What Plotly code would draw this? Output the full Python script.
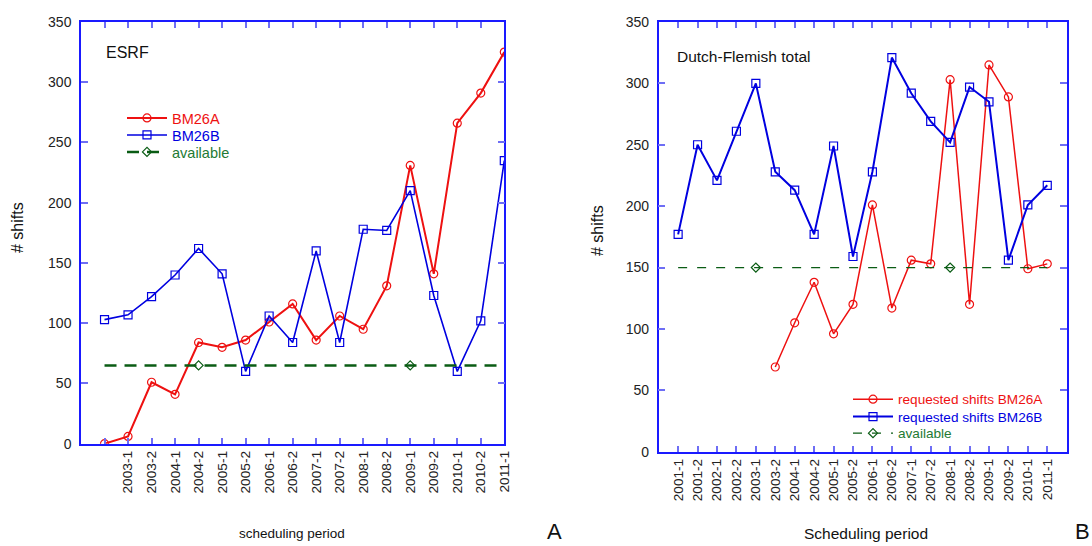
import plotly.graph_objects as go

# ---------------- data: panel A (ESRF) ----------------
esrf_periods = ["", "2003-1", "2003-2", "2004-1", "2004-2", "2005-1", "2005-2",
                "2006-1", "2006-2", "2007-1", "2007-2", "2008-1", "2008-2",
                "2009-1", "2009-2", "2010-1", "2010-2", "2011-1"]
esrf_bm26a = [0, 6, 51, 41, 84, 80, 86, 101, 116, 86, 106, 95, 131, 231, 141, 266, 291, 325]
esrf_bm26b = [103, 107, 122, 140, 162, 141, 60, 106, 84, 160, 84, 178, 177, 210, 123, 60, 102, 235]
esrf_available = [65] * 18
esrf_avail_marker_periods = ["2004-2", "2009-1"]

# ---------------- data: panel B (Dutch-Flemish total) ----------------
df_periods = ["2001-1", "2001-2", "2002-1", "2002-2", "2003-1", "2003-2", "2004-1",
              "2004-2", "2005-1", "2005-2", "2006-1", "2006-2", "2007-1", "2007-2",
              "2008-1", "2008-2", "2009-1", "2009-2", "2010-1", "2011-1"]
df_bm26a = [None, None, None, None, None, 69, 105, 138, 96, 120, 201, 117, 156, 153,
            303, 120, 315, 289, 149, 153]
df_bm26b = [177, 250, 221, 261, 300, 228, 213, 177, 249, 159, 228, 321, 292, 269,
            252, 297, 285, 156, 201, 217]
df_available = [150] * 20
df_avail_marker_periods = ["2003-1", "2008-1"]

yticks = [0, 50, 100, 150, 200, 250, 300, 350]

W, H = 1092, 546
RED = "#ee1111"
BLUE = "#0000e0"
GREEN = "#0a5c14"
GREEN_TXT = "#237a33"
FONT = "Liberation Sans, Arial, sans-serif"
MS = 8


def px(x):
    return x / W


def py(y):
    return 1 - y / H


def span(txt, col):
    return f"<span style='color:{col}'>{txt}</span>"


fig = go.Figure()

xa = list(range(len(esrf_periods)))
xb = list(range(len(df_periods)))

# ---- panel A traces ----
fig.add_trace(go.Scatter(
    x=xa, y=esrf_bm26a, mode="lines+markers", name=span("BM26A", RED),
    line=dict(color=RED, width=2),
    marker=dict(symbol="circle-open", size=MS, color=RED, line=dict(width=1.2)),
    xaxis="x", yaxis="y", legend="legend"))
fig.add_trace(go.Scatter(
    x=xa, y=esrf_bm26b, mode="lines+markers", name=span("BM26B", BLUE),
    line=dict(color=BLUE, width=1.6),
    marker=dict(symbol="square-open", size=MS, color=BLUE, line=dict(width=1.2)),
    xaxis="x", yaxis="y", legend="legend2"))
fig.add_trace(go.Scatter(
    x=xa, y=esrf_available, mode="lines+markers", name=span("available", GREEN_TXT),
    line=dict(color=GREEN, width=2.5, dash="12px,8px"),
    marker=dict(symbol="diamond-open", color=GREEN, size=7, line=dict(width=1.2)),
    selectedpoints=[i for i, p in enumerate(esrf_periods) if p in esrf_avail_marker_periods],
    unselected=dict(marker=dict(opacity=0)),
    xaxis="x", yaxis="y", legend="legend3"))

# ---- panel B traces ----
fig.add_trace(go.Scatter(
    x=xb, y=df_bm26a, mode="lines+markers", name=span("requested shifts BM26A", RED),
    line=dict(color=RED, width=1.5),
    marker=dict(symbol="circle-open", size=MS, color=RED, line=dict(width=1.2)),
    xaxis="x2", yaxis="y2", legend="legend4"))
fig.add_trace(go.Scatter(
    x=xb, y=df_bm26b, mode="lines+markers", name=span("requested shifts BM26B", BLUE),
    line=dict(color=BLUE, width=2),
    marker=dict(symbol="square-open", size=MS, color=BLUE, line=dict(width=1.2)),
    xaxis="x2", yaxis="y2", legend="legend5"))
fig.add_trace(go.Scatter(
    x=xb, y=df_available, mode="lines+markers", name=span("available", GREEN_TXT),
    line=dict(color=GREEN, width=1.2, dash="9px,10px"),
    marker=dict(symbol="diamond-open", color=GREEN, size=7, line=dict(width=1.2)),
    selectedpoints=[i for i, p in enumerate(df_periods) if p in df_avail_marker_periods],
    unselected=dict(marker=dict(opacity=0)),
    xaxis="x2", yaxis="y2", legend="legend6"))

axis_common = dict(showline=True, linecolor="#1a1aff", linewidth=1.5, mirror="ticks",
                   ticks="inside", tickcolor="#6e6ef5", tickwidth=2,
                   showgrid=False, zeroline=False)
ytickfont = dict(family=FONT, size=14, color="#222222")


def leg(xs, ys, size):
    return dict(x=px(xs), y=py(ys), xanchor="left", yanchor="middle",
                bgcolor="rgba(0,0,0,0)", itemwidth=40, tracegroupgap=0,
                font=dict(family=FONT, size=size))


fig.update_layout(
    width=W, height=H, margin=dict(l=0, r=0, t=0, b=0, autoexpand=False),
    paper_bgcolor="white", plot_bgcolor="white", showlegend=True,
    font=dict(family=FONT, color="#222222"),
    xaxis=dict(domain=[px(81), px(504.3)], range=[-1, 17], tickvals=xa,
               ticktext=esrf_periods, tickangle=-90, ticklen=6, anchor="y",
               tickfont=dict(family=FONT, size=13.7, color="#222222"), **axis_common),
    yaxis=dict(domain=[py(443.7), py(22)], range=[0, 350], tickvals=yticks,
               ticklen=7, anchor="x", tickfont=ytickfont, ticklabelstandoff=5,
               **axis_common),
    xaxis2=dict(domain=[px(658.7), px(1066.7)], range=[-1, 20], tickvals=xb,
                ticktext=df_periods, tickangle=-90, ticklen=6, anchor="y2",
                tickfont=dict(family=FONT, size=13.6, color="#222222"), **axis_common),
    yaxis2=dict(domain=[py(451.7), py(22)], range=[0, 350], tickvals=yticks,
                ticklen=7, anchor="x2", tickfont=ytickfont, ticklabelstandoff=5,
                **axis_common),
    legend=leg(122, 118, 14.5),
    legend2=leg(122, 135, 14.5),
    legend3=leg(122, 152, 14.5),
    legend4=leg(848, 399.3, 13.6),
    legend5=leg(848, 416.7, 13.6),
    legend6=leg(848, 433.3, 13.6),
    annotations=[
        dict(text="ESRF", x=px(104), y=py(52), xref="paper", yref="paper",
             xanchor="left", yanchor="middle", showarrow=False,
             font=dict(family=FONT, size=16, color="#111111")),
        dict(text="Dutch-Flemish total", x=px(674.7), y=py(57), xref="paper", yref="paper",
             xanchor="left", yanchor="middle", showarrow=False,
             font=dict(family=FONT, size=15.5, color="#111111")),
        dict(text="# shifts", x=px(17), y=py(228), xref="paper", yref="paper",
             xanchor="center", yanchor="middle", showarrow=False, textangle=-90,
             font=dict(family=FONT, size=16, color="#111111")),
        dict(text="# shifts", x=px(597), y=py(230), xref="paper", yref="paper",
             xanchor="center", yanchor="middle", showarrow=False, textangle=-90,
             font=dict(family=FONT, size=16, color="#111111")),
        dict(text="scheduling period", x=px(292), y=py(533), xref="paper", yref="paper",
             xanchor="center", yanchor="middle", showarrow=False,
             font=dict(family=FONT, size=13.5, color="#111111")),
        dict(text="Scheduling period", x=px(866), y=py(533), xref="paper", yref="paper",
             xanchor="center", yanchor="middle", showarrow=False,
             font=dict(family=FONT, size=15.5, color="#111111")),
        dict(text="A", x=px(545), y=0, xref="paper", yref="paper",
             xanchor="left", yanchor="bottom", showarrow=False,
             font=dict(family=FONT, size=22, color="#111111")),
        dict(text="B", x=1, y=0, xref="paper", yref="paper",
             xanchor="right", yanchor="bottom", showarrow=False,
             font=dict(family=FONT, size=22, color="#111111")),
    ],
)

fig.write_html("out.html")
